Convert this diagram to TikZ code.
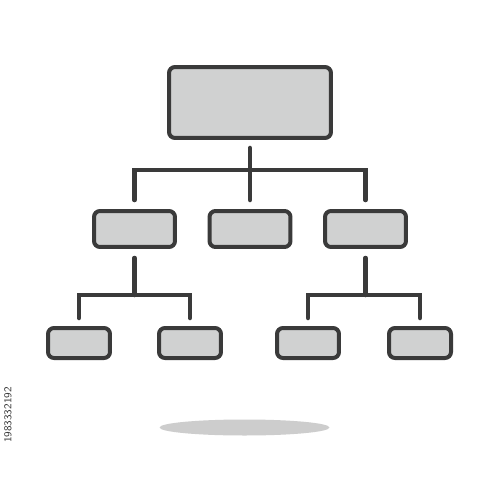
\documentclass[tikz,border=0pt]{standalone}
\definecolor{edge}{HTML}{3A3A3A}
\definecolor{boxfill}{HTML}{D0D1D1}
\definecolor{shadowgray}{HTML}{CDCDCD}
\begin{document}
\begin{tikzpicture}[x=0.02cm,y=-0.02cm,
  box/.style={draw=edge,fill=boxfill,line width=0.08cm,rounded corners=0.12cm,inner sep=0pt},
  link/.style={draw=edge,line width=0.09cm,line cap=round}]
\fill[white] (0,0) rectangle (500,500);
\useasboundingbox (0,0) rectangle (500,500);
% boxes
\node (top) at (250,102.5) [box,minimum width=3.24cm,minimum height=1.42cm] {};
\node (m1) at (134.5,229) [box,minimum width=1.62cm,minimum height=0.72cm] {};
\node (m2) at (250,229) [box,minimum width=1.62cm,minimum height=0.72cm] {};
\node (m3) at (365.5,229) [box,minimum width=1.62cm,minimum height=0.72cm] {};
\node (b1) at (79,343) [box,minimum width=1.24cm,minimum height=0.6cm] {};
\node (b2) at (190,343) [box,minimum width=1.24cm,minimum height=0.6cm] {};
\node (b3) at (308,343) [box,minimum width=1.24cm,minimum height=0.6cm] {};
\node (b4) at (420,343) [box,minimum width=1.24cm,minimum height=0.6cm] {};
% connectors
\coordinate (j1) at (250,170);
\coordinate (j2) at (134.5,295);
\coordinate (j3) at (365.5,295);
\draw[link,shorten <=8*0.02cm,shorten >=9*0.02cm] (top.south) -- (m2.north);
\draw[link,shorten <=9*0.02cm,shorten >=9*0.02cm] (m1.north) |- (j1) -| (m3.north);
\draw[link,shorten <=9*0.02cm] (m1.south) -- (j2);
\draw[link,shorten <=9*0.02cm] (m3.south) -- (j3);
\draw[link,shorten <=8*0.02cm,shorten >=8*0.02cm] (b1.north) |- (j2) -| (b2.north);
\draw[link,shorten <=8*0.02cm,shorten >=8*0.02cm] (b3.north) |- (j3) -| (b4.north);
% shadow
\fill[shadowgray] (244.5,427.5) ellipse [x radius=85,y radius=8];
\node (id) at (8,415) [rotate=90,text=edge,font=\sffamily\fontsize{6}{7}\selectfont] {1983332192};
\end{tikzpicture}
\end{document}
